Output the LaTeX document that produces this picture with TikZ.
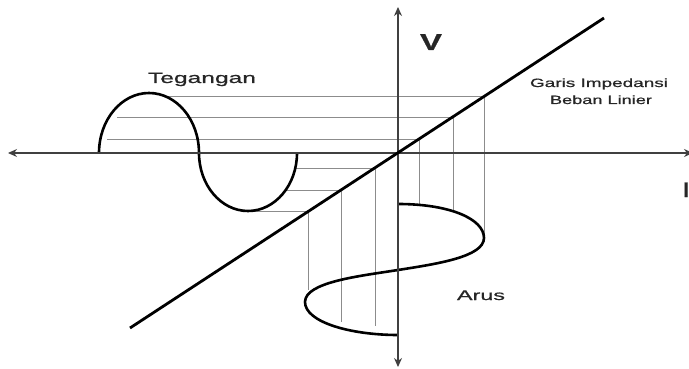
\documentclass[tikz,border=0pt]{standalone}
\usepackage{fontspec}
\newfontfamily\lab[FakeBold=0.6]{Liberation Sans}
\usetikzlibrary{arrows.meta}
\tikzset{
  proj/.style={draw=black!45, line width=0.7pt},
  wave/.style={draw=black, line width=2.6pt},
  axis/.style={draw=black!75, line width=1.3pt, {Stealth[length=9pt,width=8pt]}-{Stealth[length=9pt,width=8pt]}},
  loadline/.style={draw=black, line width=2.8pt},
  lbl/.style={inner sep=0pt, text=black!85, anchor=base}
}
\begin{document}
\begin{tikzpicture}[x=1pt,y=-1pt]
\useasboundingbox[fill=white] (0,0) rectangle (689,369);
% projection lines: voltage -> load line
\draw[proj] (167,96) -- (484,96);
\draw[proj] (117,117) -- (453,117);
\draw[proj] (107,139) -- (419,139);
\draw[proj] (295,168) -- (375,168);
\draw[proj] (286,190) -- (341,190);
\draw[proj] (250,211) -- (308,211);
% projection lines: load line -> current
\draw[proj] (484,96) -- (484,238);
\draw[proj] (453,117) -- (453,210);
\draw[proj] (419,139) -- (419,205);
\draw[proj] (375,168) -- (375,326);
\draw[proj] (341,190) -- (341,322);
\draw[proj] (308,211) -- (308,290);
% voltage wave
\draw[wave] (99,153) arc[start angle=180, end angle=360, x radius=50, y radius=60]
            arc[start angle=180, end angle=0, x radius=49, y radius=58];
% current wave
\draw[wave] (398,204) .. controls (450,204) and (484,219) .. (484,238)
            .. controls (484,257) and (436,264) .. (398,270)
            .. controls (360,276) and (305,282) .. (305,302)
            .. controls (305,322) and (350,335) .. (398,335);
% axes
\draw[axis] (8,153) -- (693,153);
\draw[axis] (398,367) -- (398,7);
% load line
\draw[loadline] (130,328) -- (604,18);
% labels
\node[lbl] (teg) at (202,83) {\lab\fontsize{15}{18}\selectfont\resizebox{108pt}{\height}{Tegangan}};
\node[lbl] (garis) at (599,87) {\lab\fontsize{12}{14}\selectfont\resizebox{138pt}{\height}{Garis Impedansi}};
\node[lbl] (beban) at (601,104) {\lab\fontsize{12}{14}\selectfont\resizebox{102pt}{\height}{Beban Linier}};
\node[lbl] (arus) at (481,300) {\lab\fontsize{14}{16}\selectfont\resizebox{48pt}{\height}{Arus}};
\node[lbl] (v) at (431,50) {\lab\bfseries\fontsize{23}{26}\selectfont\resizebox{22pt}{\height}{V}};
\node[lbl, anchor=base west] (i) at (683,197) {\lab\bfseries\fontsize{21}{24}\selectfont I};
\end{tikzpicture}
\end{document}
